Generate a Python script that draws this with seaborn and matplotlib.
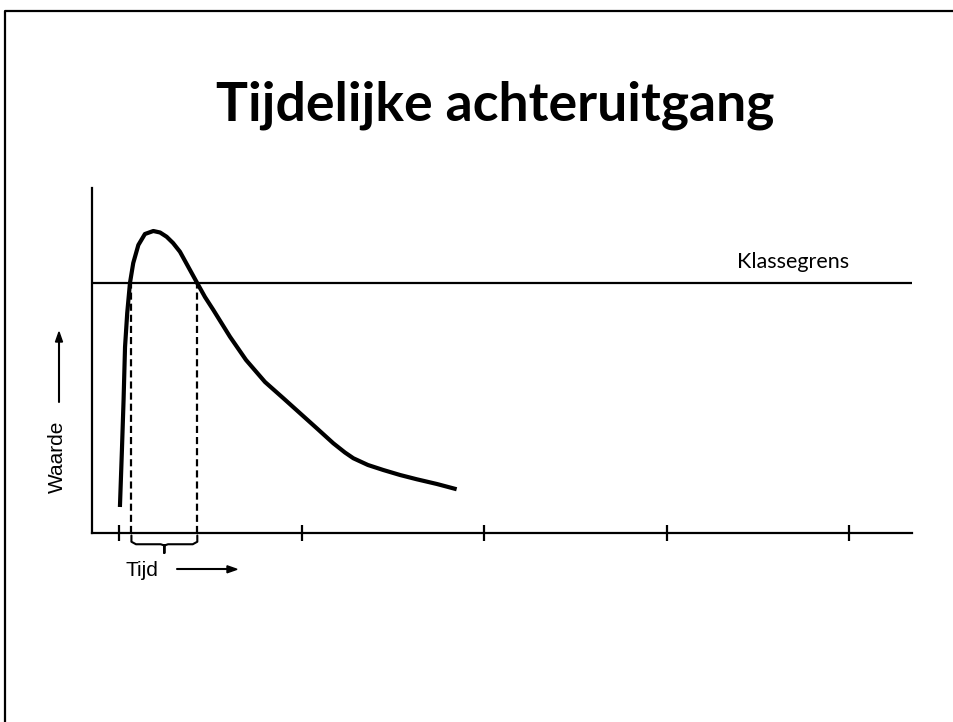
import numpy as np
import pandas as pd
import matplotlib
matplotlib.use("Agg")
import matplotlib.pyplot as plt
import seaborn as sns

# curve (time units: tick every 10, value: klassegrens = 10)
tijd = [0.05, 0.16, 0.25, 0.33, 0.45, 0.60, 0.78, 1.06, 1.42, 1.88, 2.25, 2.61,
        2.96, 3.34, 3.89, 4.29, 4.71, 5.17, 6.08, 6.96, 8.00, 8.99, 9.92, 10.85,
        11.74, 12.38, 12.84, 13.64, 14.48, 15.40, 16.31, 17.42, 18.50]
waarde = [1.04, 3.32, 5.32, 7.44, 8.80, 10.0, 10.8, 11.52, 11.96, 12.08, 12.02, 11.85,
          11.6, 11.25, 10.52, 9.99, 9.44, 8.92, 7.85, 6.92, 6.04, 5.40, 4.79, 4.18,
          3.59, 3.22, 2.99, 2.72, 2.52, 2.32, 2.15, 1.96, 1.75]
klassegrens = 10
tijd_ticks = [0, 10, 20, 30, 40]
overschrijding = [0.68, 4.29]   # start and end above klassegrens

df = pd.DataFrame({"tijd": tijd, "waarde": waarde})

sns.set_style("white")
plt.rcParams['font.family'] = ['Lato', 'DejaVu Sans']
plt.rcParams['text.color'] = 'black'

W, H = 954, 722
fig = plt.figure(figsize=(W / 100, H / 100), dpi=100)

def fx(px):
    return px / W

def fy(py):
    return 1 - py / H

ax = fig.add_axes([fx(92), fy(533), fx(912) - fx(92), fy(188) - fy(533)])
sns.lineplot(data=df, x="tijd", y="waarde", sort=False, color="black",
             linewidth=3, ax=ax, solid_capstyle="butt", solid_joinstyle="round")
ax.axhline(klassegrens, color="black", linewidth=1.6)
for t in overschrijding:
    ax.plot([t, t], [0, klassegrens], color="black", linewidth=1.6,
            linestyle=(0, (3.2, 1.8)))

ax.set_xlim(-1.48, 43.45)
ax.set_ylim(0, 13.8)
ax.set_xticks(tijd_ticks)
ax.set_xticklabels([])
ax.set_yticks([])
ax.tick_params(axis="x", direction="inout", length=12, width=1.6, color="black", bottom=True)
ax.set_xlabel("")
ax.set_ylabel("")
for side in ["top", "right"]:
    ax.spines[side].set_visible(False)
for side in ["left", "bottom"]:
    ax.spines[side].set_color("black")
    ax.spines[side].set_linewidth(1.6)
ax.patch.set_alpha(0)

ax.text(40, klassegrens + 0.45, "Klassegrens", ha="right", va="bottom", fontsize=15.5)

# brace under the period above the limit
t1, t2 = overschrijding
tm = (t1 + t2) / 2
bx = [t1, t1, t1 + 0.25, tm - 0.2, tm, tm, tm, tm + 0.2, t2 - 0.25, t2, t2]
by = [-0.1, -0.35, -0.45, -0.45, -0.5, -0.8, -0.5, -0.45, -0.45, -0.35, -0.1]
ax.plot(bx, by, color="black", linewidth=1.5, clip_on=False)

fig.text(fx(495), fy(120), "Tijdelijke achteruitgang", ha="center", va="baseline",
         fontsize=38.5, fontweight="bold")

fig.text(fx(57), fy(457), "Waarde", rotation=90, ha="center", va="center",
         fontsize=15, family=["Liberation Sans", "DejaVu Sans"])
fig.add_artist(plt.Line2D([fx(59), fx(59)], [fy(402), fy(340)], color="black", linewidth=1.5))
fig.add_artist(plt.Polygon([[fx(59), fy(332)], [fx(55.5), fy(342)], [fx(62.5), fy(342)]],
                           closed=True, color="black", transform=fig.transFigure))

fig.text(fx(126), fy(575.7), "Tijd", ha="left", va="baseline",
         fontsize=15, family=["Liberation Sans", "DejaVu Sans"])
fig.add_artist(plt.Line2D([fx(177), fx(229)], [fy(569.3), fy(569.3)], color="black", linewidth=1.5))
fig.add_artist(plt.Polygon([[fx(237), fy(569.3)], [fx(227), fy(565.8)], [fx(227), fy(572.8)]],
                           closed=True, color="black", transform=fig.transFigure))

# slide border (left and top edges only)
fig.add_artist(plt.Line2D([fx(5), fx(5), 1.0], [0.0, fy(11), fy(11)], color="black",
                          linewidth=1.6))

fig.savefig("out.png", dpi=100)
